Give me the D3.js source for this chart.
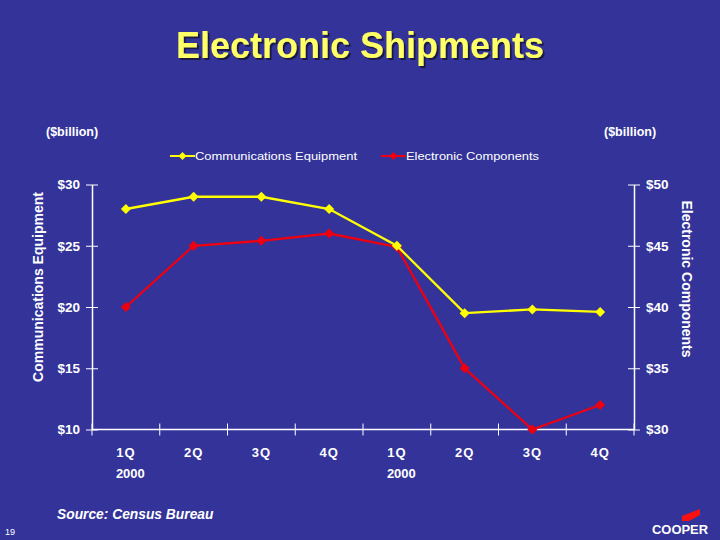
<!DOCTYPE html>
<html><head><meta charset="utf-8">
<script src="https://cdn.jsdelivr.net/npm/d3@7"></script>
<style>body{margin:0;background:#333399}svg{display:block}</style>
</head><body><svg id="c" width="720" height="540"></svg>
<script>
const quarters = ["1Q","2Q","3Q","4Q","1Q","2Q","3Q","4Q"];
const years = ["2000","","","","2000","","",""];
const commEquip = [28.0, 29.0, 29.0, 28.0, 25.0, 19.5, 19.8, 19.6];
const elecComp = [40.0, 45.0, 45.4, 46.0, 44.9, 35.0, 30.0, 32.0];
const leftTicks = [10, 15, 20, 25, 30];
const rightTicks = [30, 35, 40, 45, 50];

const svg = d3.select("#c");
const font = "Arial, 'Liberation Sans', sans-serif";
svg.append("rect").attr("width",720).attr("height",540).attr("fill","#333399");
const defs = svg.append("defs");
const f = defs.append("filter").attr("id","sh").attr("x","-10%").attr("y","-20%").attr("width","120%").attr("height","150%");
f.append("feDropShadow").attr("dx",2).attr("dy",2).attr("stdDeviation",0.6).attr("flood-color","#15153d").attr("flood-opacity",0.9);

const L=92, R=634, T=184.5, B=429.5;
const x = d3.scaleBand().domain(d3.range(quarters.length)).range([L,R]);
const yL = d3.scaleLinear().domain([10,30]).range([B,T]);
const yR = d3.scaleLinear().domain([30,50]).range([B,T]);

// title
svg.append("text").attr("x",360).attr("y",58).attr("text-anchor","middle")
  .attr("font-family",font).attr("font-weight","bold").attr("font-size",36)
  .attr("fill","#ffff66").attr("filter","url(#sh)").text("Electronic Shipments");

const white="#ffffff";
// axes
const gL = svg.append("g").attr("transform",`translate(${L},0)`)
  .call(d3.axisLeft(yL).tickValues(leftTicks).tickFormat(d=>"$"+d).tickSize(6).tickSizeOuter(0));
const gR = svg.append("g").attr("transform",`translate(${R},0)`)
  .call(d3.axisRight(yR).tickValues(rightTicks).tickFormat(d=>"$"+d).tickSize(6).tickSizeOuter(0));
gL.selectAll(".tick line").attr("x1",-6).attr("x2",6);
gR.selectAll(".tick line").attr("x1",-6).attr("x2",6);
const xTickPos = d3.range(quarters.length+1).map(i=> i<quarters.length ? x(i) : R);
const gX = svg.append("g").attr("transform",`translate(0,${B})`);
gX.append("line").attr("x1",L).attr("x2",R).attr("stroke",white).attr("stroke-width",1.5);
gX.selectAll("line.t").data(xTickPos).join("line").attr("class","t")
  .attr("x1",d=>d).attr("x2",d=>d).attr("y1",-6).attr("y2",6).attr("stroke",white);
gX.selectAll("text.q").data(quarters).join("text").attr("class","q")
  .attr("x",(d,i)=>x(i)+x.bandwidth()/2).attr("y",27).attr("text-anchor","middle")
  .attr("font-family",font).attr("font-weight","bold").attr("font-size",13).attr("fill",white)
  .attr("letter-spacing",1).text(d=>d);
gX.selectAll("text.yr").data(years).join("text").attr("class","yr")
  .attr("x",(d,i)=>x(i)+x.bandwidth()/2-10).attr("y",48).attr("text-anchor","start")
  .attr("font-family",font).attr("font-weight","bold").attr("font-size",13).attr("fill",white)
  .text(d=>d);

[gL,gR].forEach(g=>{
  g.select(".domain").attr("stroke",white).attr("stroke-width",1.5);
  g.selectAll(".tick line").attr("stroke",white);
  g.selectAll(".tick text").attr("fill",white).attr("font-family",font)
    .attr("font-weight","bold").attr("font-size",13.5);
});
gL.selectAll(".tick text").attr("x",-12);
gR.selectAll(".tick text").attr("x",12);

// axis titles
svg.append("text").attr("transform","translate(43,287) rotate(-90)").attr("text-anchor","middle")
  .attr("font-family",font).attr("font-weight","bold").attr("font-size",14).attr("fill",white)
  .text("Communications Equipment");
svg.append("text").attr("transform","translate(682,279) rotate(90)").attr("text-anchor","middle")
  .attr("font-family",font).attr("font-weight","bold").attr("font-size",14).attr("fill",white)
  .text("Electronic Components");
svg.append("text").attr("x",46).attr("y",136).attr("font-family",font).attr("font-weight","bold")
  .attr("font-size",12.5).attr("fill",white).text("($billion)");
svg.append("text").attr("x",604).attr("y",136).attr("font-family",font).attr("font-weight","bold")
  .attr("font-size",12.5).attr("fill",white).text("($billion)");

// series
const cx = i=> x(i)+x.bandwidth()/2;
const diamond = "M0,-5L5,0L0,5L-5,0Z";
const series = [
  {name:"Communications Equipment", vals:commEquip, y:yL, color:"#ffff00"},
  {name:"Electronic Components", vals:elecComp, y:yR, color:"#ee0010"}
];
series.slice().reverse().forEach(s=>{
  svg.append("path").datum(s.vals)
    .attr("d", d3.line().x((d,i)=>cx(i)).y(d=>s.y(d)))
    .attr("fill","none").attr("stroke",s.color).attr("stroke-width",2.3);
  svg.selectAll(null).data(s.vals).join("path")
    .attr("d",diamond).attr("transform",(d,i)=>`translate(${cx(i)},${s.y(d)})`)
    .attr("fill",s.color);
});

// legend
const legX=[170,381];
const legW=[162,133];
series.forEach((s,k)=>{
  const g=svg.append("g").attr("transform",`translate(${legX[k]},156)`);
  g.append("line").attr("x1",0).attr("x2",25).attr("stroke",s.color).attr("stroke-width",2);
  g.append("path").attr("d","M0,-4L4,0L0,4L-4,0Z").attr("transform","translate(12.5,0)").attr("fill",s.color);
  g.append("text").attr("x",25).attr("y",4).attr("font-family",font).attr("font-size",11.5)
    .attr("fill",white).attr("textLength",legW[k]).attr("lengthAdjust","spacingAndGlyphs").text(s.name);
});

// footer
svg.append("text").attr("x",57).attr("y",519).attr("font-family",font).attr("font-weight","bold")
  .attr("font-style","italic").attr("font-size",13.8).attr("fill",white).text("Source: Census Bureau");
svg.append("text").attr("x",5).attr("y",535).attr("font-family",font)
  .attr("font-size",9).attr("fill",white).text("19");
// logo
svg.append("path").attr("d","M682,516 L700,509 L700,515 L689,521 L682,521 Z").attr("fill","#ff1010");
svg.append("text").attr("x",652).attr("y",533.5).attr("font-family",font).attr("font-weight","900")
  .attr("font-size",12.5).attr("fill",white).attr("textLength",56).attr("lengthAdjust","spacingAndGlyphs").text("COOPER");
</script></body></html>
